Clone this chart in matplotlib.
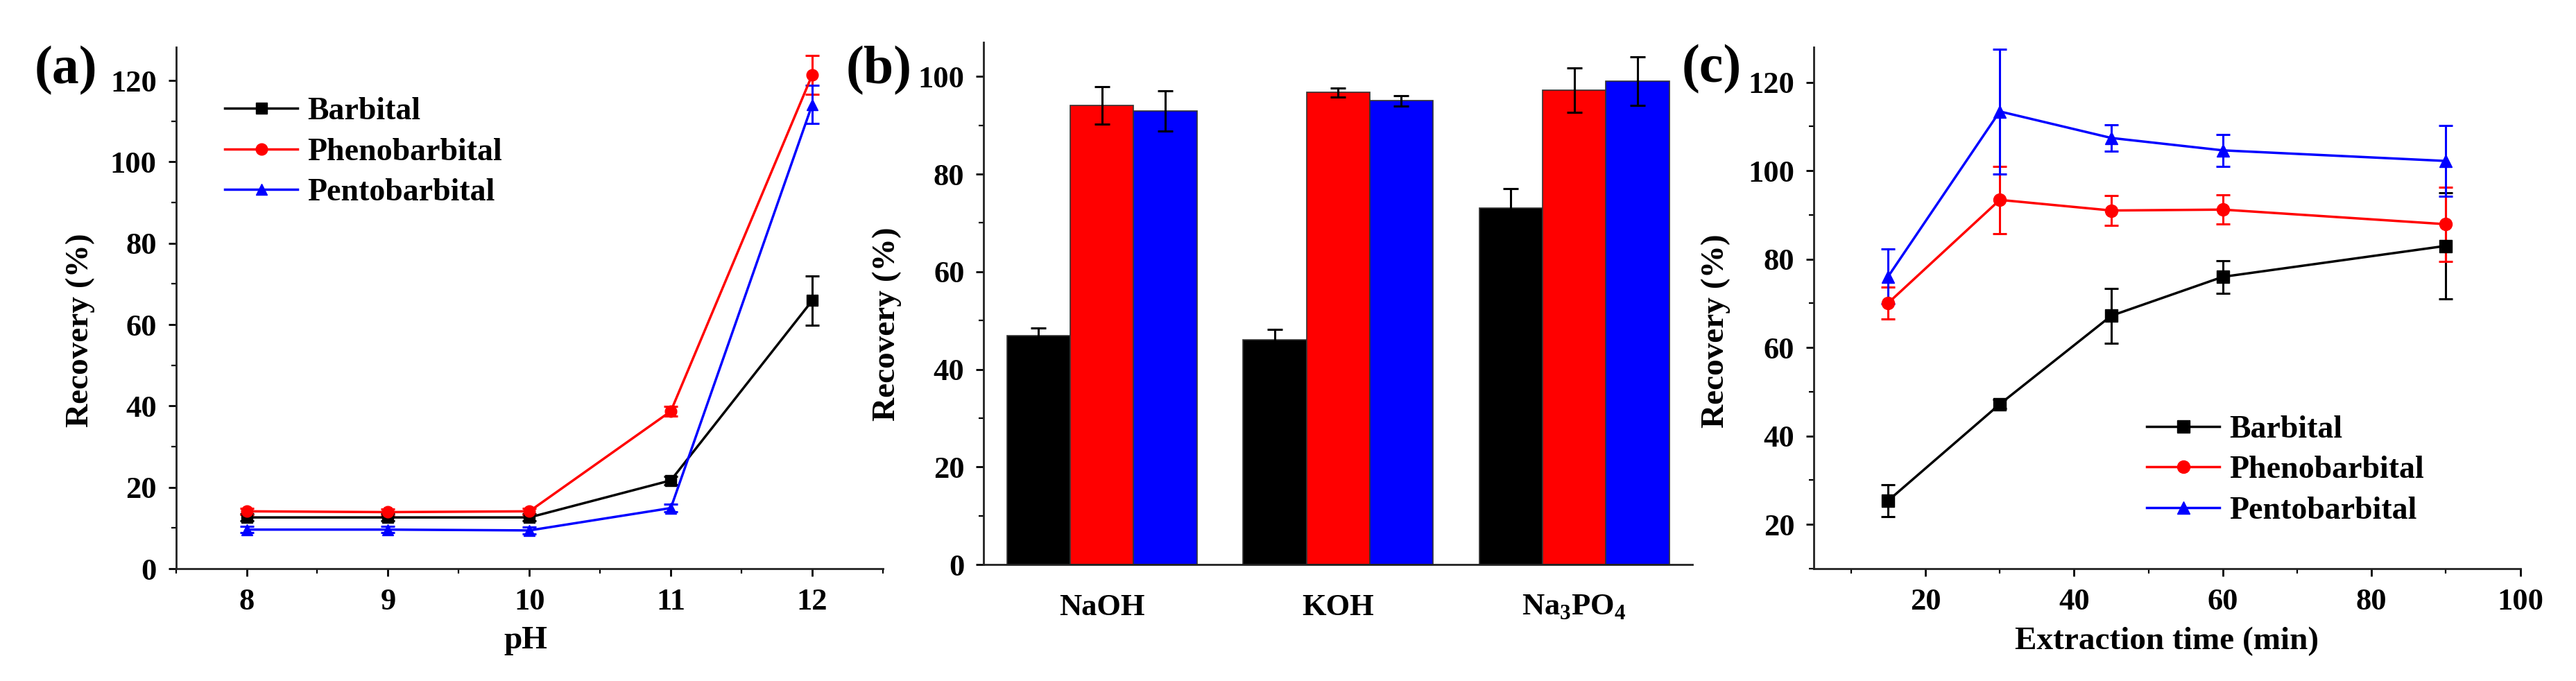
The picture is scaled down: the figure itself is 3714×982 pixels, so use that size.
import numpy as np
import matplotlib
matplotlib.use('Agg')
import matplotlib.pyplot as plt
from matplotlib.ticker import MultipleLocator
from matplotlib.lines import Line2D

plt.rcParams['font.family'] = ['Liberation Serif', 'DejaVu Serif']
plt.rcParams['font.weight'] = 'bold'
plt.rcParams['mathtext.fontset'] = 'custom'
plt.rcParams['mathtext.rm'] = 'Liberation Serif:bold'
plt.rcParams['mathtext.bf'] = 'Liberation Serif:bold'

names = ["Barbital", "Phenobarbital", "Pentobarbital"]
colors = ["black", "red", "blue"]
markers = ["s", "o", "^"]

# (a) pH
ph = [8, 9, 10, 11, 12]
ph_barb = [12.6, 12.6, 12.6, 21.7, 65.9]
ph_barb_err = [0.8, 0.8, 0.8, 1.0, 6.1]
ph_pheno = [14.1, 13.9, 14.1, 38.7, 121.4]
ph_pheno_err = [0.8, 0.8, 0.8, 1.2, 4.8]
ph_pento = [9.6, 9.6, 9.4, 14.9, 114.1]
ph_pento_err = [0.8, 0.8, 0.8, 1.0, 4.7]

# (b) base type
bases = ["NaOH", "KOH", r"Na$_\mathregular{3}$PO$_\mathregular{4}$"]
base_barb = [46.9, 46.0, 73.0]
base_barb_err = [1.5, 2.2, 4.0]
base_pheno = [94.1, 96.7, 97.2]
base_pheno_err = [3.8, 0.9, 4.5]
base_pento = [92.9, 95.0, 99.0]
base_pento_err = [4.1, 1.1, 5.0]

# (c) extraction time
t = [15, 30, 45, 60, 90]
t_barb = [25.4, 47.2, 67.2, 76.0, 83.0]
t_barb_err = [3.6, 1.0, 6.2, 3.7, 12.0]
t_pheno = [70.1, 93.4, 91.0, 91.2, 87.9]
t_pheno_err = [3.6, 7.6, 3.4, 3.3, 8.4]
t_pento = [76.1, 113.4, 107.4, 104.6, 102.2]
t_pento_err = [6.2, 14.1, 3.0, 3.6, 8.0]

W, H = 3714, 982
fig = plt.figure(figsize=(W / 100, H / 100), dpi=100)

def px_axes(l, t_, r, b):
    return fig.add_axes([l / W, 1 - b / H, (r - l) / W, (b - t_) / H])

ax_a = px_axes(253.6, 68, 1273, 820)
ax_b = px_axes(1418.4, 61, 2440, 814)
ax_c = px_axes(2615.2, 67.6, 3633.7, 820)

def style(ax):
    for s in ['top', 'right']:
        ax.spines[s].set_visible(False)
    for s in ['left', 'bottom']:
        ax.spines[s].set_linewidth(2)
        ax.spines[s].set_color('#222222')
    ax.tick_params(which='major', direction='out', length=8, width=2, labelsize=32, pad=12)
    ax.tick_params(which='minor', direction='out', length=5, width=1.6)
    for lab in ax.get_xticklabels() + ax.get_yticklabels():
        lab.set_fontweight('bold')

def legend_handles(ms):
    return [Line2D([], [], color=c, marker=m, markersize=ms, linewidth=2.5) for c, m in zip(colors, markers)]

leg_kw = dict(loc='upper left', frameon=False, handlelength=2.3, handletextpad=0.3, labelspacing=0.36,
              borderpad=0, borderaxespad=0, prop={'weight': 'bold', 'size': 33})

# panel a
for y, e, c, m in zip([ph_barb, ph_pheno, ph_pento], [ph_barb_err, ph_pheno_err, ph_pento_err], colors, markers):
    ax_a.errorbar(ph, y, yerr=e, color=c, marker=m, markersize=12, linewidth=2.5, capsize=7, elinewidth=2.2, capthick=2.2)
ax_a.set_xlim(7.5, 12.5)
ax_a.set_ylim(0, 128.2)
ax_a.xaxis.set_major_locator(MultipleLocator(1))
ax_a.xaxis.set_minor_locator(MultipleLocator(0.5))
ax_a.yaxis.set_major_locator(MultipleLocator(20))
ax_a.yaxis.set_minor_locator(MultipleLocator(10))
style(ax_a)
ax_a.set_xlabel("pH", fontsize=34, fontweight='bold')
ax_a.set_ylabel("Recovery (%)", fontsize=34, fontweight='bold')
ax_a.xaxis.set_label_coords(0.495, -0.138)
ax_a.xaxis.label.set_va('center')
ax_a.yaxis.set_label_coords(-0.135, 0.457)
ax_a.yaxis.label.set_va('center')
ax_a.legend(legend_handles(12), names, bbox_to_anchor=(0.069, 0.904), **leg_kw)

# panel b
xb = np.arange(1, len(bases) + 1)
bw = 0.268
for i, (y, e, c) in enumerate(zip([base_barb, base_pheno, base_pento], [base_barb_err, base_pheno_err, base_pento_err], colors)):
    ax_b.bar(xb + (i - 1) * bw, y, bw, yerr=e, color=c, edgecolor='#333333', linewidth=1.2,
             error_kw=dict(ecolor='black', elinewidth=2.2, capsize=8, capthick=2.2))
ax_b.set_xlim(0.5, 3.5)
ax_b.set_ylim(0, 107)
ax_b.set_xticks(xb)
ax_b.set_xticklabels(bases)
ax_b.yaxis.set_major_locator(MultipleLocator(20))
ax_b.yaxis.set_minor_locator(MultipleLocator(10))
style(ax_b)
ax_b.tick_params(axis='x', which='both', length=0, pad=30)
ax_b.set_ylabel("Recovery (%)", fontsize=34, fontweight='bold')
ax_b.yaxis.set_label_coords(-0.1365, 0.46)
ax_b.yaxis.label.set_va('center')

# panel c
for y, e, c, m in zip([t_barb, t_pheno, t_pento], [t_barb_err, t_pheno_err, t_pento_err], colors, markers):
    ax_c.errorbar(t, y, yerr=e, color=c, marker=m, markersize=13, linewidth=2.5, capsize=7, elinewidth=2.2, capthick=2.2)
ax_c.set_xlim(5, 100)
ax_c.set_ylim(10, 128)
ax_c.xaxis.set_major_locator(MultipleLocator(20))
ax_c.xaxis.set_minor_locator(MultipleLocator(10))
ax_c.yaxis.set_major_locator(MultipleLocator(20))
ax_c.yaxis.set_minor_locator(MultipleLocator(10))
ax_c.set_yticks([20, 40, 60, 80, 100, 120])
style(ax_c)
ax_c.set_xlabel("Extraction time (min)", fontsize=34, fontweight='bold')
ax_c.set_ylabel("Recovery (%)", fontsize=34, fontweight='bold')
ax_c.xaxis.set_label_coords(0.5, -0.139)
ax_c.xaxis.label.set_va('center')
ax_c.yaxis.set_label_coords(-0.1386, 0.456)
ax_c.yaxis.label.set_va('center')
ax_c.legend(legend_handles(13), names, bbox_to_anchor=(0.471, 0.294), **leg_kw)

for lab, x, y in [("(a)", 95, 102), ("(b)", 1267, 102), ("(c)", 2468, 100)]:
    fig.text(x / W, 1 - y / H, lab, fontsize=56, fontweight='bold', ha='center', va='center')

fig.savefig("out.png", dpi=100)
